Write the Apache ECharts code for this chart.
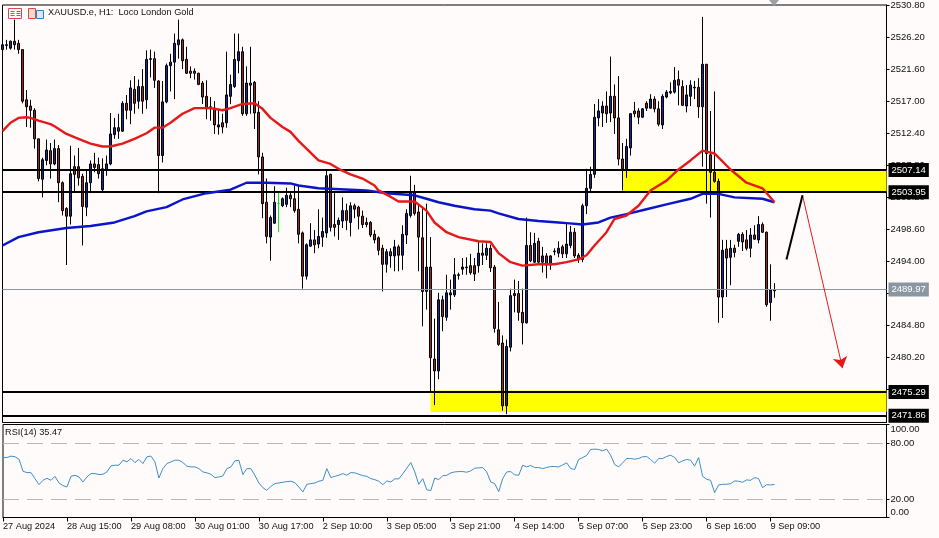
<!DOCTYPE html>
<html><head><meta charset="utf-8">
<style>html,body{margin:0;padding:0;background:#fffbfa;}#c{width:939px;height:538px;}</style>
<script src="https://cdn.jsdelivr.net/npm/echarts@6/dist/echarts.min.js"></script>
</head><body><div id="c"></div>
<script>
const tickLabels=["27 Aug 2024","28 Aug 15:00","29 Aug 08:00","30 Aug 01:00","30 Aug 17:00","2 Sep 10:00","3 Sep 05:00","3 Sep 21:00","4 Sep 14:00","5 Sep 07:00","5 Sep 23:00","6 Sep 16:00","9 Sep 09:00"];
const priceTicks=[2530.8,2526.2,2521.6,2517,2512.4,2507.8,2503.2,2498.6,2494,2489.4,2484.8,2480.2,2475.6];
const rsiTicks=[0,20,80,100];
const opens=[2524.4,2525.0,2524.6,2525.6,2525.3,2524.4,2517.2,2516.3,2515.7,2511.6,
2505.8,2508.5,2509.9,2508.0,2510.2,2505.3,2501.6,2500.5,2507.6,2507.6,
2506.2,2501.8,2505.3,2508.0,2507.9,2504.3,2507.2,2508.0,2512.2,2513.2,
2512.7,2516.7,2515.7,2518.7,2517.0,2519.1,2517.2,2523.0,2523.1,2519.9,
2509.2,2516.9,2522.1,2522.6,2525.1,2525.8,2523.0,2521.3,2521.3,2521.0,
2519.6,2517.7,2516.2,2516.0,2513.3,2513.9,2513.9,2517.7,2519.1,2522.8,
2524.1,2515.2,2519.6,2519.7,2515.4,2509.0,2502.5,2497.5,2499.5,2502.3,
2502.0,2502.2,2503.5,2503.0,2501.5,2498.1,2491.9,2496.2,2497.1,2496.5,
2497.5,2498.1,2506.5,2499.3,2499.3,2499.8,2501.3,2499.6,2502.0,2501.8,
2500.5,2499.6,2499.6,2497.9,2497.4,2495.9,2493.6,2495.4,2494.8,2496.1,
2494.9,2497.8,2500.6,2503.9,2501.1,2497.4,2489.7,2493.2,2480.0,2478.3,
2488.5,2486.0,2489.2,2489.2,2492.0,2492.9,2493.2,2493.4,2493.4,2493.4,
2495.2,2494.9,2495.9,2493.2,2484.2,2482.3,2473.3,2481.7,2489.4,2489.4,
2486.7,2485.2,2496.3,2493.9,2496.9,2493.9,2494.8,2493.5,2495.4,2495.2,
2496.1,2495.1,2496.3,2498.2,2494.9,2494.3,2502.0,2504.5,2506.5,2514.6,
2515.3,2516.3,2515.3,2517.7,2514.6,2508.7,2507.3,2510.3,2515.6,2515.6,
2514.7,2516.7,2516.0,2517.3,2515.9,2513.6,2517.6,2518.2,2518.3,2520.1,
2519.1,2516.3,2517.7,2519.0,2519.0,2516.2,2522.3,2509.3,2506.8,2505.5,
2488.9,2495.8,2494.6,2495.9,2496.9,2497.9,2497.1,2495.9,2497.8,2497.1,
2499.3,2498.2,2488.1,2489.8];
const closes=[2525.1,2525.1,2525.6,2525.1,2524.4,2517.0,2516.2,2515.7,2511.6,2505.9,
2508.6,2510.0,2508.0,2510.2,2505.3,2501.3,2500.5,2506.6,2506.5,2506.0,
2501.9,2505.3,2508.0,2507.5,2506.6,2507.3,2508.0,2512.3,2513.2,2512.7,
2516.7,2515.7,2518.9,2516.7,2519.1,2517.0,2523.0,2523.1,2520.0,2509.2,
2516.9,2522.1,2522.6,2525.3,2525.8,2522.8,2521.0,2521.0,2521.0,2519.4,
2517.6,2515.9,2515.9,2513.6,2513.6,2513.3,2517.9,2519.4,2523.0,2524.1,
2515.2,2519.6,2519.3,2515.3,2509.0,2502.3,2497.6,2500.3,2502.5,2502.3,
2503.0,2503.5,2503.0,2501.3,2497.9,2491.9,2496.4,2497.1,2496.4,2497.6,
2498.3,2506.3,2498.9,2498.9,2499.9,2501.3,2499.9,2502.0,2501.5,2500.5,
2499.3,2499.3,2497.8,2497.1,2495.6,2493.6,2495.4,2494.8,2496.1,2494.9,
2497.9,2500.9,2503.9,2500.9,2497.5,2489.7,2493.2,2480.2,2478.3,2488.5,
2486.1,2489.5,2489.5,2492.1,2492.1,2493.2,2493.1,2492.4,2492.2,2495.2,
2494.9,2495.9,2493.1,2484.4,2482.1,2473.3,2481.8,2489.1,2489.1,2486.7,
2485.2,2496.3,2494.1,2496.6,2493.9,2494.8,2493.5,2494.8,2495.5,2495.9,
2495.1,2496.5,2498.2,2494.8,2494.3,2502.0,2504.5,2506.5,2514.7,2515.6,
2516.3,2515.2,2517.7,2514.6,2508.7,2507.3,2510.5,2515.2,2515.2,2514.7,
2515.9,2516.0,2517.3,2515.9,2513.7,2517.7,2518.3,2518.4,2520.0,2519.3,
2516.4,2517.9,2519.3,2518.9,2516.2,2522.3,2509.5,2506.8,2505.5,2488.9,
2495.6,2494.5,2495.9,2495.3,2497.9,2496.8,2495.9,2497.8,2497.2,2499.3,
2498.2,2487.8,2489.9,2489.97];
const highs=[2525.8,2525.8,2525.7,2528.7,2525.8,2524.4,2518.6,2517.2,2516.0,2511.6,
2508.9,2511.5,2511.0,2511.5,2510.7,2505.5,2501.8,2510.6,2509.2,2510.3,
2506.6,2507.0,2508.5,2509.6,2508.9,2508.8,2509.2,2515.3,2514.6,2515.2,
2517.0,2517.9,2520.0,2520.6,2520.1,2521.6,2524.3,2524.4,2524.1,2520.0,
2519.9,2522.4,2523.8,2526.7,2528.7,2526.0,2524.8,2522.0,2521.7,2521.1,
2519.9,2520.0,2517.6,2517.0,2515.9,2515.2,2524.1,2520.8,2526.7,2526.7,
2524.8,2522.0,2524.8,2519.9,2517.0,2509.6,2505.9,2500.6,2504.8,2503.9,
2503.2,2504.6,2503.9,2504.9,2505.0,2498.3,2496.6,2499.5,2498.5,2501.5,
2500.3,2507.0,2506.6,2503.8,2500.3,2503.2,2502.3,2502.5,2502.3,2502.0,
2501.3,2500.3,2499.8,2498.5,2497.6,2496.4,2495.8,2495.9,2497.1,2496.4,
2499.2,2501.5,2506.3,2505.0,2502.3,2501.8,2502.3,2497.5,2485.8,2489.5,
2489.1,2492.1,2491.4,2494.5,2492.4,2494.5,2494.6,2495.1,2494.5,2496.8,
2496.6,2496.6,2496.4,2493.5,2488.2,2483.4,2482.8,2490.1,2491.4,2491.2,
2490.1,2500.3,2498.2,2498.1,2497.4,2496.1,2495.2,2494.9,2495.9,2496.9,
2496.4,2499.5,2499.1,2498.8,2495.2,2502.3,2507.3,2507.6,2516.6,2517.3,
2517.0,2518.4,2523.4,2519.4,2520.6,2511.0,2511.6,2515.3,2516.9,2516.0,
2516.0,2517.0,2518.0,2517.7,2517.0,2518.0,2518.6,2519.7,2521.9,2521.4,
2520.0,2519.3,2520.0,2519.9,2520.3,2529.1,2522.3,2515.6,2518.4,2505.9,
2497.1,2497.1,2497.1,2496.4,2498.1,2498.2,2498.5,2498.8,2499.2,2500.5,
2499.6,2498.3,2493.6,2490.9];
const lows=[2523.8,2524.4,2524.4,2524.4,2523.8,2516.7,2513.3,2513.2,2510.2,2505.5,
2503.2,2507.8,2505.9,2507.8,2502.5,2500.6,2493.5,2499.3,2503.9,2504.9,
2496.3,2500.5,2503.8,2506.8,2505.9,2504.0,2506.3,2507.8,2511.6,2511.6,
2512.6,2514.4,2513.7,2515.2,2515.9,2515.2,2515.9,2520.4,2518.9,2503.8,
2508.2,2516.7,2518.4,2517.3,2523.1,2521.6,2520.9,2520.3,2520.1,2519.3,
2516.6,2514.4,2514.2,2512.3,2512.2,2512.4,2513.2,2516.6,2518.9,2521.0,
2514.9,2514.9,2515.2,2513.0,2506.5,2500.2,2496.6,2494.1,2499.4,2498.2,
2501.8,2501.8,2501.8,2501.0,2496.6,2490.1,2491.4,2496.1,2495.2,2495.9,
2496.1,2497.4,2498.3,2497.6,2497.1,2498.8,2498.5,2497.6,2500.2,2498.6,
2498.8,2498.9,2497.5,2496.6,2494.9,2489.7,2492.4,2493.1,2492.6,2492.6,
2492.8,2496.5,2500.3,2500.6,2492.6,2484.7,2487.1,2475.4,2473.4,2477.1,
2484.0,2485.5,2487.1,2488.9,2491.4,2492.1,2492.1,2492.1,2491.2,2492.4,
2493.5,2494.2,2492.5,2483.8,2481.9,2472.6,2472.1,2481.1,2486.7,2485.5,
2482.1,2485.1,2493.9,2493.8,2493.8,2492.4,2491.6,2492.8,2494.9,2494.6,
2494.5,2494.5,2495.9,2494.5,2493.8,2493.9,2500.8,2504.0,2506.0,2513.4,
2513.3,2513.9,2514.0,2512.3,2507.8,2504.2,2506.0,2509.2,2514.7,2513.7,
2514.6,2515.6,2515.9,2515.4,2513.4,2513.0,2517.4,2518.0,2518.1,2516.4,
2516.3,2515.4,2516.3,2517.3,2514.6,2507.6,2502.3,2500.3,2505.3,2485.2,
2485.9,2488.9,2490.6,2494.6,2496.1,2495.5,2495.6,2494.6,2497.1,2496.6,
2498.1,2487.5,2485.5,2488.8];
const maFast=[[0,2512.7],[2,2513.9],[4,2514.6],[6,2514.7],[7,2514.6],[9,2514.2],[12,2513.7],[13,2513.4],[16,2512.3],[19,2511.6],[22,2510.9],[25,2510.5],[27,2510.5],[30,2510.9],[33,2511.6],[36,2512.4],[38,2513.2],[40,2513.2],[42,2513.9],[45,2515.2],[48,2516.0],[50,2516.0],[52,2516.0],[55,2515.7],[57,2516.0],[60,2516.6],[63,2516.7],[65,2515.9],[67,2514.6],[70,2513.3],[72,2512.6],[74,2511.3],[79,2508.5],[82,2508.0],[84,2507.3],[87,2506.5],[90,2505.9],[93,2504.9],[94,2504.2],[97,2503.3],[99,2502.6],[103,2502.6],[106,2501.3],[108,2499.6],[111,2498.2],[114,2497.5],[119,2496.9],[122,2496.8],[124,2495.2],[127,2493.9],[130,2493.4],[134,2493.6],[138,2493.6],[141,2493.9],[144,2494.3],[146,2494.9],[148,2496.3],[151,2498.2],[153,2500.1],[156,2500.6],[159,2502.0],[162,2504.2],[166,2505.6],[169,2507.2],[172,2508.5],[175,2509.9],[178,2509.5],[182,2507.2],[186,2505.3],[190,2504.5],[193,2502.5]];
const maSlow=[[0,2496.3],[4,2497.5],[9,2498.2],[16,2498.8],[22,2499.1],[28,2499.6],[33,2500.5],[36,2501.2],[41,2501.8],[45,2502.9],[51,2503.8],[57,2504.3],[61,2505.3],[66,2505.3],[72,2505.2],[74,2504.9],[79,2504.5],[87,2504.3],[91,2504.2],[96,2503.8],[103,2503.5],[106,2503.0],[109,2502.5],[113,2502.0],[118,2501.5],[122,2501.3],[124,2500.9],[129,2500.1],[134,2499.8],[139,2499.6],[141,2499.5],[145,2499.3],[149,2499.6],[152,2500.3],[156,2500.8],[161,2501.5],[166,2502.2],[172,2503.0],[175,2503.7],[179,2503.7],[183,2503.2],[190,2503.0],[193,2502.5]];
const rsi=[64.5,64.5,66,65.3,62.7,49.7,48.3,48.3,41.8,35.3,
40,42.2,40,44.3,37.1,34.3,32.8,44.3,45.4,43.6,
38.2,43.6,47.2,47.2,46.2,46.5,49,55.5,56.2,56.2,
61.6,59.8,63.4,59.1,62.4,58,65.3,66,59.8,42.5,
52.6,58,59.8,61.6,61.6,59.1,55.2,54.4,54.4,52.6,
49,48,46.5,42.9,43.6,44.7,52.6,54.4,60.9,61.6,
46.2,52.6,52.6,45.4,37.1,32.1,29.2,33.5,36.4,37.1,
37.9,38.6,39,37.5,32.8,27.4,35.7,36.4,37.1,39,
40,52.6,42.9,44.3,45.4,47.2,45.4,48.3,48,46.5,
45,44.3,41.8,40.7,39,35.3,39.3,38.2,41.5,41.5,
47,53,59.1,49,35.7,41.8,29.9,28.9,42.5,40.7,
45,45.4,48,49,49.4,49.4,48.7,50.1,53,53.4,
53.7,49,38.2,36.4,27.8,41.8,49,49.4,45.8,45.4,
56.2,54.4,55.9,53.7,53.7,52.6,53.7,54.8,54.8,54.4,
56.6,58.8,52.6,51.6,62.4,64.5,66.7,73.2,73.5,73.2,
71.7,73.5,67,57,54.4,58.8,63.4,63.4,62.7,63.4,
65.3,65.6,62.4,58.4,63.4,63.4,65.6,67,64.5,58.8,
60.9,62.4,61.6,55.2,64.5,44.3,41.1,40,26.7,35,
35.7,35.7,36.4,39.3,39,37.9,40.4,40,42.9,41.8,
32.1,35.3,35,35.47];
const levels=[2507.14,2503.95,2475.29,2471.86];
const lastPrice=2489.97;
const zones=[[155,2507.14,2503.95],[107,2475.5,2472.4]];
const blackLeg=[[196,2494.3],[200,2503.5]];
const redLeg=[[200,2503.5],[210,2478.7]];
const barCount=222;
const categories=Array.from({length:barCount},(_,i)=>String(i));
const FONT='"Liberation Sans"';
const greenBar=69;
const candleData=opens.map((o,i)=>{
  const v=[o,closes[i],lows[i],highs[i]];
  return i===greenBar?{value:v,itemStyle:{color:'#22dd22',color0:'#22dd22',borderColor:'#22dd22',borderColor0:'#22dd22'}}:v;
});
const L=2.5,R=52.5;
const chart=echarts.init(document.getElementById('c'),null,{renderer:'canvas'});
const frame={show:true,borderColor:'#000',borderWidth:1,backgroundColor:'transparent'};
chart.setOption({
  animation:false,
  backgroundColor:'#fffbfa',
  title:[
    {text:'XAUUSD.e, H1:  Loco London Gold',left:48,top:8,padding:0,textStyle:{fontFamily:FONT,fontSize:9.2,fontWeight:'normal',color:'#111'}},
    {text:'RSI(14) 35.47',left:5,top:428,padding:0,textStyle:{fontFamily:FONT,fontSize:9.2,fontWeight:'normal',color:'#111'}}
  ],
  grid:[
    Object.assign({left:L,right:R,top:2,height:420.5},frame),
    Object.assign({left:L,right:R,top:424.5,height:93},frame)
  ],
  xAxis:[
    {type:'category',gridIndex:0,data:categories,boundaryGap:false,axisLine:{show:false},axisTick:{show:false},axisLabel:{show:false},splitLine:{show:false}},
    {type:'category',gridIndex:1,data:categories,boundaryGap:false,
      axisLine:{onZero:false,lineStyle:{color:'#000'}},
      axisTick:{length:4,lineStyle:{color:'#000'},interval:i=>i%16===0&&i<=192},
      axisLabel:{interval:i=>i%16===0&&i<=192,formatter:(v,i)=>tickLabels[i/16]||'',align:'left',margin:4,fontFamily:FONT,fontSize:9.2,color:'#111'},
      splitLine:{show:false}}
  ],
  yAxis:[
    {type:'value',gridIndex:0,position:'right',min:2470.9,max:2530.8,
      axisLine:{show:true,lineStyle:{color:'#000'}},
      axisTick:{show:true,length:3,lineStyle:{color:'#000'},customValues:priceTicks},
      axisLabel:{customValues:priceTicks,formatter:v=>v.toFixed(2),margin:4,fontFamily:FONT,fontSize:9.5,color:'#111'},
      splitLine:{show:false}},
    {type:'value',gridIndex:1,position:'right',min:0,max:100,
      axisLine:{show:true,lineStyle:{color:'#000'}},
      axisTick:{show:true,length:3,lineStyle:{color:'#000'},customValues:rsiTicks},
      axisLabel:{customValues:rsiTicks,formatter:v=>v.toFixed(2),margin:4,fontFamily:FONT,fontSize:9.5,color:'#111',verticalAlignMaxLabel:'top',verticalAlignMinLabel:'bottom'},
      splitLine:{show:false}}
  ],
  series:[
    {type:'line',name:'zones',xAxisIndex:0,yAxisIndex:0,data:[],z:1,
      markArea:{silent:true,itemStyle:{color:'#ffff00'},data:zones.map(z=>[{coord:[z[0],z[1]]},{coord:[barCount-1,z[2]]}])},
      markLine:{silent:true,symbol:'none',animation:false,lineStyle:{color:'#8a97a3',width:1,type:'solid'},
        label:{position:'end',distance:2,formatter:p=>p.value.toFixed(2),color:'#fff',backgroundColor:'#8a97a3',padding:[2,3],fontFamily:FONT,fontSize:9.5},
        data:[{yAxis:lastPrice}]}},
    {type:'candlestick',xAxisIndex:0,yAxisIndex:0,data:candleData,barWidth:3,z:3,
      itemStyle:{color:'#1a2a8c',color0:'#8c2c28',borderColor:'#000',borderColor0:'#000',borderWidth:1}},
    {type:'line',name:'levels',xAxisIndex:0,yAxisIndex:0,data:[],z:4,
      markLine:{silent:true,symbol:'none',animation:false,lineStyle:{color:'#000',width:2,type:'solid'},
        label:{position:'end',distance:2,formatter:p=>p.value.toFixed(2),color:'#fff',backgroundColor:'#000',padding:[2,3],fontFamily:FONT,fontSize:9.5},
        data:levels.map(v=>({yAxis:v}))}},
    {type:'line',name:'maSlow',xAxisIndex:0,yAxisIndex:0,data:maSlow,showSymbol:false,lineStyle:{color:'#0a14c8',width:2.4},z:5},
    {type:'line',name:'maFast',xAxisIndex:0,yAxisIndex:0,data:maFast,showSymbol:false,lineStyle:{color:'#e41a1a',width:2.4},z:6},
    {type:'line',name:'blackLeg',xAxisIndex:0,yAxisIndex:0,data:blackLeg,showSymbol:false,lineStyle:{color:'#000',width:2},z:7},
    {type:'line',name:'redLeg',xAxisIndex:0,yAxisIndex:0,data:[],z:7,
      markLine:{silent:true,animation:false,symbol:['none','arrow'],symbolSize:[11,11],lineStyle:{color:'#e41a1a',width:1,type:'solid'},label:{show:false},
        data:[[{coord:redLeg[0]},{coord:redLeg[1]}]]}},
    {type:'line',name:'rsi',xAxisIndex:1,yAxisIndex:1,data:rsi,showSymbol:false,lineStyle:{color:'#3d8ecb',width:1},z:3,
      markLine:{silent:true,symbol:'none',animation:false,lineStyle:{color:'#b8b8b8',width:1,type:[16,8]},label:{show:false},data:[{yAxis:80},{yAxis:20}]}}
  ],
  graphic:[
    {type:'polygon',silent:true,shape:{points:[[769,0],[779,0],[774,6]]},style:{fill:'#9aa0a6'}},
    {type:'group',silent:true,left:8,top:8,children:[
      {type:'rect',shape:{x:0,y:0,width:13,height:10},style:{fill:'#fff',stroke:'#d84a4a',lineWidth:1}},
      {type:'line',shape:{x1:2,y1:3,x2:6,y2:3},style:{stroke:'#d84a4a'}},
      {type:'line',shape:{x1:2,y1:5,x2:6,y2:5},style:{stroke:'#d84a4a'}},
      {type:'line',shape:{x1:2,y1:7,x2:6,y2:7},style:{stroke:'#d84a4a'}},
      {type:'line',shape:{x1:8,y1:3,x2:12,y2:3},style:{stroke:'#2f7fc0'}},
      {type:'line',shape:{x1:8,y1:5,x2:12,y2:5},style:{stroke:'#2f7fc0'}},
      {type:'line',shape:{x1:8,y1:7,x2:12,y2:7},style:{stroke:'#2f7fc0'}}
    ]},
    {type:'group',silent:true,left:28,top:8,children:[
      {type:'rect',shape:{x:0,y:0,width:7,height:10},style:{fill:'#f6d8d0',stroke:'#d84a4a',lineWidth:1}},
      {type:'rect',shape:{x:8,y:2,width:7,height:8},style:{fill:'#d8e8f6',stroke:'#2f7fc0',lineWidth:1}}
    ]}
  ]
});
</script></body></html>
